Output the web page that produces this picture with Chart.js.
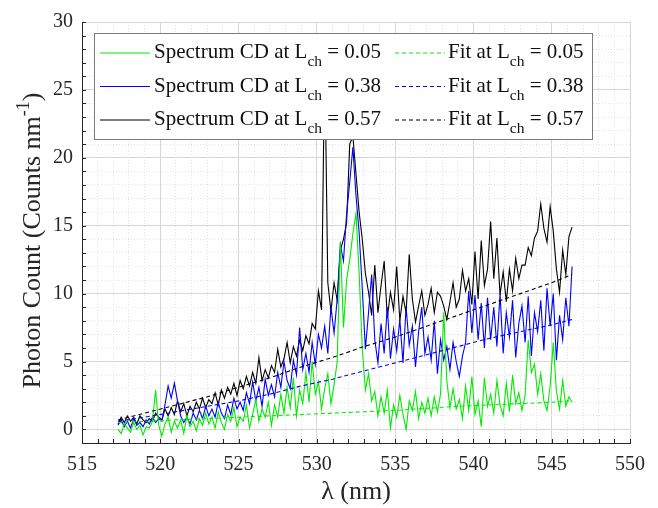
<!DOCTYPE html>
<html lang="en">
<head>
<meta charset="UTF-8">
<title>Photon Count Spectra</title>
<script src="https://cdn.jsdelivr.net/npm/chart.js"></script>
<style>
    body { margin: 0; padding: 0; background: #ffffff; }
    #wrap { width: 658px; height: 508px; position: relative; }
</style>
</head>
<body>
<div id="wrap"><canvas id="spectrumChart" width="658" height="508"></canvas></div>
<script>
// wavelength grid of the spectra (nm)
const lambdaStart = 517.3;
const lambdaStep = 0.2;

// spectrum CD at L_ch = 0.57 (black)
const spec057 = [
    0.4,0.9,0.5,1.0,0.6,0.9,0.4,1.0,0.7,0.5,
    0.8,0.6,1.2,0.9,0.7,1.5,1.0,1.6,1.1,2.1,
    1.3,1.9,1.0,1.7,1.3,2.0,1.5,2.3,1.6,2.2,
    1.9,2.7,1.8,2.9,2.3,3.1,2.6,3.4,2.5,3.6,
    3.0,3.9,3.2,4.2,3.4,5.3,3.6,4.4,3.8,4.7,
    4.2,5.9,4.6,5.2,6.4,4.9,6.1,5.4,6.6,5.8,
    6.9,6.3,7.8,7.4,10.2,8.8,27.5,10.8,8.7,10.8,
    9.5,13.2,14.0,15.2,21.0,21.6,18.8,16.0,14.0,11.5,
    10.1,8.4,12.1,8.6,10.6,12.4,8.2,10.1,8.8,12.0,
    8.0,9.8,8.6,12.9,9.6,7.9,9.1,10.2,8.4,9.2,
    10.4,8.6,10.1,9.8,9.1,8.1,9.4,10.8,9.0,9.6,
    11.7,10.2,11.1,9.2,13.1,9.6,13.9,10.6,11.8,15.3,
    11.1,14.1,9.9,11.6,9.4,11.8,10.2,12.6,11.1,12.1,
    12.1,13.4,12.8,14.1,14.6,16.6,14.8,13.8,16.4,14.6,
    11.8,10.1,13.2,11.4,14.2,14.9
];

// spectrum CD at L_ch = 0.38 (blue)
const spec038 = [
    0.3,0.7,0.2,0.6,0.1,0.8,0.3,0.5,0.2,0.7,
    0.4,0.9,0.5,0.8,0.6,1.8,3.2,2.3,3.4,2.1,
    1.0,0.5,0.9,0.4,1.2,0.7,1.4,0.8,1.7,1.0,
    1.5,0.9,2.0,1.2,0.8,1.8,1.1,2.3,1.5,2.0,
    1.4,2.7,1.9,3.5,2.1,3.1,1.7,3.7,2.5,3.3,
    2.4,4.2,3.1,5.0,3.6,3.0,5.1,4.0,7.5,4.4,
    5.6,4.2,6.4,4.8,7.0,6.0,7.6,5.6,9.0,7.1,
    9.6,13.6,12.4,15.9,18.2,20.8,17.2,14.5,10.4,5.9,
    8.6,11.4,6.6,4.9,7.8,5.6,9.0,5.2,7.4,5.8,
    8.1,4.9,9.0,6.2,7.6,4.6,7.2,9.0,5.6,6.8,
    5.1,8.0,4.1,6.6,5.1,6.1,4.4,6.4,5.0,3.9,
    5.4,6.4,10.2,7.1,9.9,6.6,9.3,6.0,9.7,6.6,
    9.0,6.1,10.0,5.6,8.6,6.8,9.5,5.3,7.8,9.1,
    6.4,9.8,5.4,8.6,7.2,9.5,5.8,10.4,7.6,10.0,
    5.1,8.4,6.6,9.7,7.6,12.0
];

// spectrum CD at L_ch = 0.05 (green)
const spec005 = [
    0.0,-0.3,0.4,0.1,-0.2,0.5,0.0,0.3,-0.4,0.2,
    0.1,0.6,2.9,0.3,-0.5,0.4,0.9,-0.2,0.6,0.1,
    0.7,-0.3,1.0,0.2,0.6,-0.1,0.8,0.3,1.2,0.4,
    0.9,0.1,1.3,0.5,0.0,1.1,0.6,1.6,0.2,0.9,
    0.6,1.8,0.1,1.1,2.2,0.6,1.5,0.9,2.0,0.3,
    1.8,0.9,2.6,1.2,3.1,1.6,3.8,1.0,2.9,1.9,
    4.2,2.0,5.0,2.6,3.5,1.5,3.0,4.1,1.9,3.3,
    5.0,13.8,7.5,11.0,12.5,14.4,15.9,11.5,6.0,2.9,
    4.1,2.1,2.8,1.0,2.4,1.2,2.9,0.1,1.8,0.9,
    2.5,1.1,0.0,2.1,1.4,2.8,0.8,2.0,1.2,2.3,
    1.0,2.4,1.3,2.6,8.6,3.6,1.6,3.0,1.5,2.2,
    0.8,3.2,1.4,3.9,1.1,2.1,0.2,3.8,1.7,2.6,
    1.2,3.6,1.8,1.0,3.4,1.3,4.0,1.9,2.7,1.4,
    2.5,6.6,4.2,4.8,2.6,4.1,2.1,1.4,3.2,6.4,
    2.8,1.5,3.6,1.7,2.4,2.0
];

// fitted curves
const fitLambda = [517.3, 519, 521, 523, 525, 527, 529, 531, 533, 535, 537, 539, 541, 543, 545, 546.3];
const fit057 = [0.7, 1.2, 1.8, 2.4, 3.1, 3.8, 4.6, 5.3, 6.1, 6.8, 7.6, 8.4, 9.2, 10.0, 10.8, 11.4];
const fit038 = [0.6, 0.9, 1.3, 1.7, 2.1, 2.6, 3.2, 3.7, 4.3, 4.9, 5.5, 6.1, 6.7, 7.2, 7.7, 8.1];
const fit005 = [0.5, 0.6, 0.7, 0.8, 0.9, 1.0, 1.1, 1.2, 1.3, 1.4, 1.55, 1.7, 1.8, 1.9, 2.0, 2.1];

const lchValues = ['0.05', '0.38', '0.57'];
const seriesColors = ['rgb(0,235,0)', '#0000ff', '#000000'];
const xMajorTicks = [515, 520, 525, 530, 535, 540, 545, 550];
const yMajorTicks = [0, 5, 10, 15, 20, 25, 30];

const serif = 'Liberation Serif';
const axisColor = '#262626';

Chart.defaults.font.family = serif;
Chart.defaults.color = axisColor;

const wavelengths = spec057.map((_, i) => +(lambdaStart + i * lambdaStep).toFixed(1));
const toPoints = (xs, ys) => ys.map((y, i) => ({x: xs[i], y: y}));

function rangeTicks(lo, hi) {
    const out = [];
    for (let v = lo; v <= hi; v++) out.push({value: v});
    return out;
}

function isMajor(ctx, majors) {
    return ctx.tick && majors.includes(ctx.tick.value);
}

function drawSubLabel(ctx, x, y, pre, sub, post) {
    ctx.font = '21px ' + serif;
    ctx.fillText(pre, x, y);
    x += ctx.measureText(pre).width;
    ctx.font = '15.5px ' + serif;
    ctx.fillText(sub, x, y + 8);
    x += ctx.measureText(sub).width;
    ctx.font = '21px ' + serif;
    ctx.fillText(post, x, y);
}

// legend box, y title and inward tick marks
const extras = {
    id: 'extras',
    afterDraw(chart) {
        const ctx = chart.ctx;
        const area = chart.chartArea;
        const xs = chart.scales.x, ys = chart.scales.y;

        ctx.save();
        // inward ticks
        ctx.strokeStyle = axisColor;
        ctx.lineWidth = 1;
        ctx.beginPath();
        xs.ticks.forEach(t => {
            const px = Math.round(xs.getPixelForValue(t.value)) + 0.5;
            ctx.moveTo(px, area.bottom);
            ctx.lineTo(px, area.bottom - 4);
        });
        ys.ticks.forEach(t => {
            const py = Math.round(ys.getPixelForValue(t.value)) + 0.5;
            ctx.moveTo(area.left, py);
            ctx.lineTo(area.left + 4, py);
        });
        ctx.stroke();

        // legend
        const bx = area.left + 12, by = area.top + 11, bw = 498, bh = 106;
        ctx.fillStyle = '#ffffff';
        ctx.fillRect(bx, by, bw, bh);
        ctx.strokeStyle = '#7a7a7a';
        ctx.strokeRect(bx + 0.5, by + 0.5, bw, bh);
        ctx.fillStyle = '#111111';
        ctx.textBaseline = 'alphabetic';
        ctx.textAlign = 'left';
        lchValues.forEach((lch, r) => {
            const ly = by + 20 + r * 33.5;
            ctx.strokeStyle = seriesColors[r];
            ctx.setLineDash([]);
            ctx.beginPath();
            ctx.moveTo(bx + 6, ly);
            ctx.lineTo(bx + 56, ly);
            ctx.stroke();
            ctx.setLineDash([4, 3]);
            ctx.beginPath();
            ctx.moveTo(bx + 301, ly);
            ctx.lineTo(bx + 351, ly);
            ctx.stroke();
            ctx.setLineDash([]);
            drawSubLabel(ctx, bx + 60, ly + 5, 'Spectrum CD at L', 'ch', ' = ' + lch);
            drawSubLabel(ctx, bx + 354, ly + 5, 'Fit at L', 'ch', ' = ' + lch);
        });

        // y axis title with superscript
        const main = 'Photon Count (Counts nm';
        ctx.fillStyle = axisColor;
        ctx.translate(31, (area.top + area.bottom) / 2 + 8);
        ctx.rotate(-Math.PI / 2);
        ctx.font = '26px ' + serif;
        const w1 = ctx.measureText(main).width;
        const w3 = ctx.measureText(')').width;
        ctx.font = '18px ' + serif;
        const w2 = ctx.measureText('-1').width;
        let x0 = -(w1 + w2 + w3) / 2;
        ctx.font = '26px ' + serif;
        ctx.fillText(main, x0, 9);
        ctx.font = '18px ' + serif;
        ctx.fillText('-1', x0 + w1, -2);
        ctx.font = '26px ' + serif;
        ctx.fillText(')', x0 + w1 + w2, 9);
        ctx.restore();
    }
};

const ctx = document.getElementById('spectrumChart').getContext('2d');
new Chart(ctx, {
    type: 'line',
    data: {
        datasets: [
            {label: 'Fit at L_ch = 0.57', data: toPoints(fitLambda, fit057), borderColor: seriesColors[2], borderDash: [4, 3]},
            {label: 'Fit at L_ch = 0.38', data: toPoints(fitLambda, fit038), borderColor: seriesColors[1], borderDash: [4, 3]},
            {label: 'Fit at L_ch = 0.05', data: toPoints(fitLambda, fit005), borderColor: seriesColors[0], borderDash: [4, 3]},
            {label: 'Spectrum CD at L_ch = 0.05', data: toPoints(wavelengths, spec005), borderColor: seriesColors[0]},
            {label: 'Spectrum CD at L_ch = 0.38', data: toPoints(wavelengths, spec038), borderColor: seriesColors[1]},
            {label: 'Spectrum CD at L_ch = 0.57', data: toPoints(wavelengths, spec057), borderColor: seriesColors[2]}
        ]
    },
    options: {
        responsive: false,
        animation: false,
        elements: {
            line: {borderWidth: 1.1, tension: 0, fill: false},
            point: {radius: 0, hoverRadius: 0}
        },
        layout: {padding: {top: 22, right: 28, left: 0, bottom: 0}},
        plugins: {legend: {display: false}, tooltip: {enabled: false}},
        scales: {
            x: {
                type: 'linear',
                min: 515,
                max: 550,
                afterBuildTicks: s => { s.ticks = rangeTicks(515, 550); },
                afterFit: s => { s.height = 65; },
                ticks: {
                    autoSkip: false,
                    maxRotation: 0,
                    padding: 10,
                    color: axisColor,
                    font: {family: serif, size: 20},
                    callback: v => xMajorTicks.includes(v) ? String(v) : ''
                },
                grid: {
                    drawTicks: false,
                    color: c => isMajor(c, xMajorTicks) ? '#d6d6d6' : '#e2e2e2'
                },
                border: {
                    color: axisColor,
                    width: 1,
                    dash: c => isMajor(c, xMajorTicks) ? [] : [1, 2]
                },
                title: {
                    display: true,
                    text: 'λ (nm)',
                    color: axisColor,
                    font: {family: serif, size: 26},
                    padding: {top: 0, bottom: 0}
                }
            },
            y: {
                type: 'linear',
                min: -1,
                max: 30,
                afterBuildTicks: s => { s.ticks = rangeTicks(-1, 30); },
                afterFit: s => { s.width = 82; },
                ticks: {
                    autoSkip: false,
                    padding: 9,
                    color: axisColor,
                    font: {family: serif, size: 20},
                    callback: v => yMajorTicks.includes(v) ? String(v) : ''
                },
                grid: {
                    drawTicks: false,
                    color: c => isMajor(c, yMajorTicks) ? '#d6d6d6' : '#e2e2e2'
                },
                border: {
                    color: axisColor,
                    width: 1,
                    dash: c => isMajor(c, yMajorTicks) ? [] : [1, 2]
                }
            }
        }
    },
    plugins: [extras]
});
</script>
</body>
</html>
